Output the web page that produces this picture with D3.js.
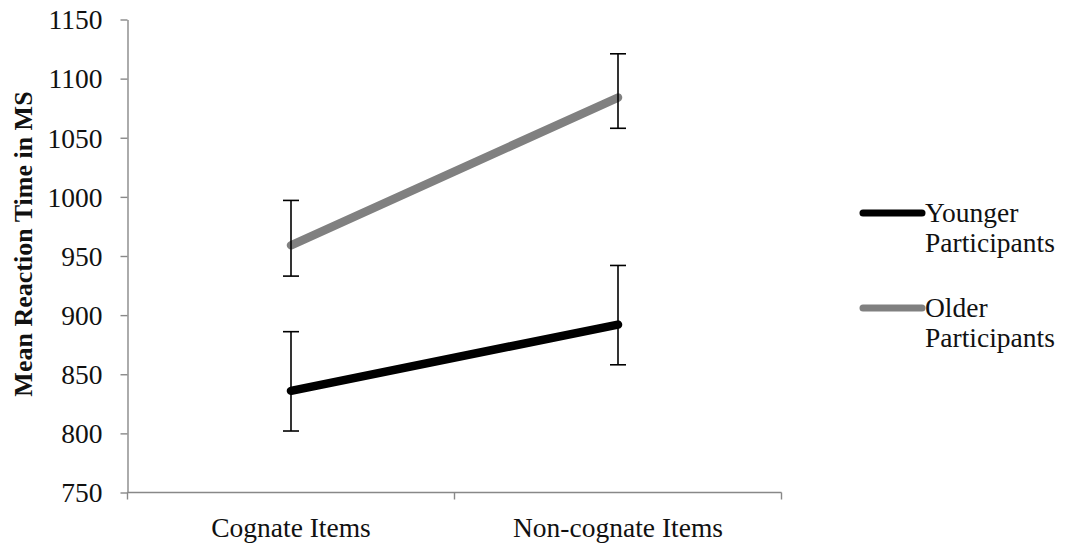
<!DOCTYPE html>
<html>
<head>
<meta charset="utf-8">
<style>
    body { margin: 0; background: white; }
    text { font-family: "Liberation Serif", "Times New Roman", serif; fill: #111; }
    .axis path, .axis line { stroke: #888; stroke-width: 1.4; }
    .err { stroke: black; stroke-width: 1.6; fill: none; }
</style>
</head>
<body>
<div id="chart"></div>
<script src="https://cdnjs.cloudflare.com/ajax/libs/d3/7.8.5/d3.min.js"></script>
<script>

//////////////////// data ////////////////////
let categories = ['Cognate Items', 'Non-cognate Items'];
let y_ticks = [750, 800, 850, 900, 950, 1000, 1050, 1100, 1150];

let younger_mean = [836, 892];
let younger_high = [886, 942];
let younger_low = [802, 858];

let older_mean = [959, 1084];
let older_high = [997, 1121];
let older_low = [933, 1058];

let series_names = ['Younger Participants', 'Older Participants'];

//////////////////// layout ////////////////////
let W = 1066, H = 544;
let left = 127.5, top_ = 19.5, plot_w = 654, plot_h = 473;
let FONT = 27.5;

let svg = d3.select('#chart').append('svg')
    .attr('width', W)
    .attr('height', H);

let x = d3.scaleBand().domain(categories).range([0, plot_w]);
let y = d3.scaleLinear().domain([750, 1150]).range([plot_h, 0]);

let plot = svg.append('g').attr('transform', `translate(${left}, ${top_})`);

// y axis
let yAxis = plot.append('g').classed('axis', true)
    .call(d3.axisLeft(y).tickValues(y_ticks).tickFormat(d3.format('d'))
        .tickSize(7).tickSizeOuter(0).tickPadding(18));
yAxis.selectAll('text').style('font-size', FONT + 'px').attr('dy', '0.34em');

// x axis with ticks at band edges
let xAxis = plot.append('g').classed('axis', true)
    .attr('transform', `translate(0, ${plot_h})`);
xAxis.append('line').attr('x1', 0).attr('x2', plot_w).attr('y1', 0).attr('y2', 0);
let edges = [0].concat(categories.map((c) => x(c) + x.bandwidth()));
edges.forEach((e) => {
    xAxis.append('line').attr('x1', e).attr('x2', e).attr('y1', 0).attr('y2', 7);
});
categories.forEach((c) => {
    xAxis.append('text')
        .attr('x', x(c) + x.bandwidth() / 2)
        .attr('y', 44)
        .attr('text-anchor', 'middle')
        .style('font-size', FONT + 'px')
        .text(c);
});

// y axis title
svg.append('text')
    .attr('transform', `translate(32, 244) rotate(-90)`)
    .attr('text-anchor', 'middle')
    .style('font-size', '26px')
    .style('font-weight', 'bold')
    .text('Mean Reaction Time in MS');

//////////////////// series ////////////////////
let series = [
    {mean: younger_mean, hi: younger_high, lo: younger_low, color: '#000000'},
    {mean: older_mean, hi: older_high, lo: older_low, color: '#808080'},
];
let cx = (i) => x(categories[i]) + x.bandwidth() / 2;
let line = d3.line().x((d, i) => cx(i)).y((d) => y(d));

series.forEach((s) => {
    plot.append('path')
        .attr('d', line(s.mean))
        .attr('stroke', s.color)
        .attr('stroke-width', 8.5)
        .attr('stroke-linecap', 'round')
        .attr('fill', 'none');
});

// error bars on top
series.forEach((s) => {
    s.mean.forEach((m, i) => {
        let g = plot.append('g').classed('err', true);
        g.append('line').attr('x1', cx(i)).attr('x2', cx(i)).attr('y1', y(s.hi[i])).attr('y2', y(s.lo[i]));
        g.append('line').attr('x1', cx(i) - 8).attr('x2', cx(i) + 8).attr('y1', y(s.hi[i])).attr('y2', y(s.hi[i]));
        g.append('line').attr('x1', cx(i) - 8).attr('x2', cx(i) + 8).attr('y1', y(s.lo[i])).attr('y2', y(s.lo[i]));
    });
});

//////////////////// legend ////////////////////
let legend = svg.append('g').attr('transform', 'translate(863, 213)');
series.forEach((s, idx) => {
    let row = legend.append('g').attr('transform', `translate(0, ${idx * 95})`);
    row.append('line')
        .attr('x1', 0).attr('x2', 59).attr('y1', 0).attr('y2', 0)
        .attr('stroke', s.color)
        .attr('stroke-width', 7)
        .attr('stroke-linecap', 'round');
    let words = series_names[idx].split(' ');
    words.forEach((w, k) => {
        row.append('text')
            .attr('x', 62)
            .attr('y', 9 + k * 30)
            .style('font-size', FONT + 'px')
            .text(w);
    });
});

</script>
</body>
</html>
